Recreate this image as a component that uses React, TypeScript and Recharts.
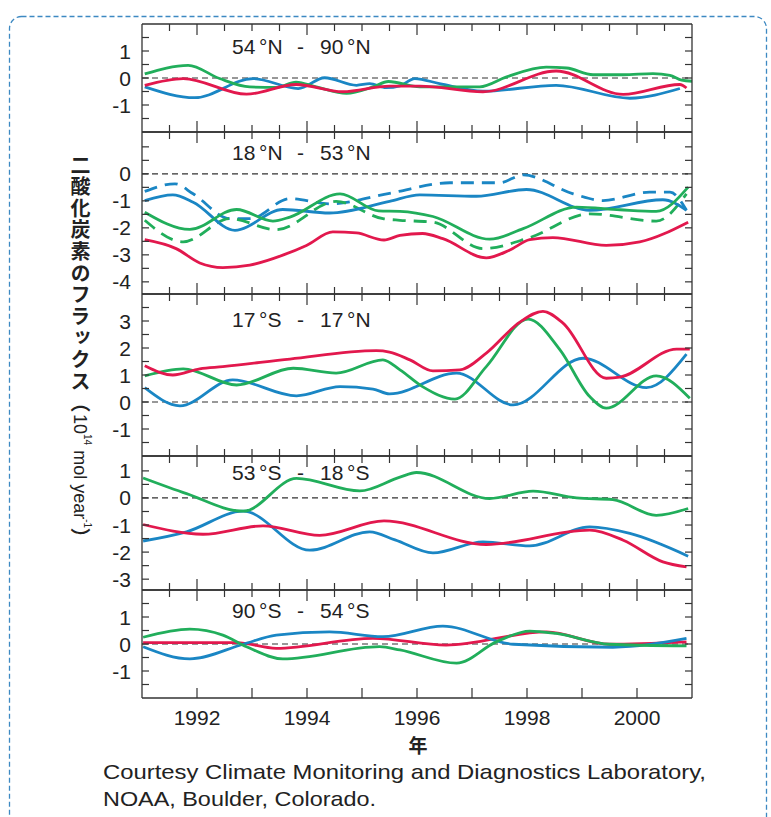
import React from "react";
import { LineChart, Line, XAxis, YAxis, ReferenceLine } from "recharts";

type Pt = [number, number];

const RED = "#e2184d";
const GREEN = "#21ae5b";
const BLUE = "#1a86c4";
const INK = "#333333";
const SANS = '"Liberation Sans", Arial, Helvetica, sans-serif';
const CJK = '"Noto Sans CJK JP", "Noto Sans CJK SC", sans-serif';

const X_DOMAIN: [number, number] = [1991, 2001];
const HALF_YEARS = [
  1991.5, 1992, 1992.5, 1993, 1993.5, 1994, 1994.5, 1995, 1995.5, 1996,
  1996.5, 1997, 1997.5, 1998, 1998.5, 1999, 1999.5, 2000, 2000.5,
];
const WHOLE_YEARS = [1992, 1993, 1994, 1995, 1996, 1997, 1998, 1999, 2000];
const YEAR_LABELS = [1992, 1994, 1996, 1998, 2000];

// 54°N - 90°N
const n54Green: Pt[] = [
  [1991.05, 0.15], [1991.84, 0.47], [1992.41, -0.02], [1992.96, -0.33],
  [1993.44, -0.35], [1993.8, -0.15], [1994.17, -0.33], [1994.72, -0.57],
  [1995.2, -0.33], [1995.48, -0.13], [1996.05, -0.33], [1997.14, -0.33],
  [1997.63, 0.04], [1998.35, 0.4], [1998.72, 0.37], [1999.2, 0.12],
  [1999.75, 0.12], [2000.29, 0.16], [2000.6, 0.1], [2000.81, -0.08], [2001, -0.12],
];
const n54Red: Pt[] = [
  [1991.05, -0.27], [1991.75, -0.02], [1992.9, -0.6], [1993.8, -0.24],
  [1994.65, -0.51], [1995.5, -0.3], [1996.05, -0.3], [1997.2, -0.51],
  [1998.53, 0.26], [1999.75, -0.61], [2000.78, -0.24], [2000.9, -0.37],
];
const n54Blue: Pt[] = [
  [1991.05, -0.33], [1991.96, -0.73], [1993.02, -0.02], [1993.84, -0.39],
  [1994.32, 0.01], [1994.9, -0.27], [1995.14, -0.21], [1995.44, -0.36],
  [1995.69, -0.29], [1995.96, -0.02], [1996.41, -0.21], [1997.2, -0.49],
  [1998.53, -0.27], [1999.87, -0.75], [2000.78, -0.39],
];

// 18°N - 53°N
const n18Red: Pt[] = [
  [1991.05, -2.44], [1991.62, -2.77], [1992.05, -3.3], [1992.47, -3.47],
  [1992.96, -3.38], [1993.56, -3.01], [1993.99, -2.65], [1994.47, -2.15],
  [1994.9, -2.19], [1995.4, -2.45], [1995.69, -2.28], [1996.1, -2.21],
  [1996.47, -2.4], [1997.26, -3.11], [1997.68, -2.83], [1998.05, -2.44],
  [1998.47, -2.36], [1999.44, -2.65], [2000.05, -2.52], [2000.93, -1.79],
];
const n18Green: Pt[] = [
  [1991.05, -1.42], [1991.87, -2.06], [1992.72, -1.32], [1993.38, -1.75],
  [1993.69, -1.6], [1994.6, -0.74], [1995.3, -1.37], [1995.69, -1.39],
  [1996.29, -1.58], [1997.32, -2.42], [1997.93, -2.03], [1998.9, -1.23],
  [1999.69, -1.33], [2000.35, -1.39], [2000.93, -0.49],
];
const n18Blue: Pt[] = [
  [1991.05, -0.99], [1991.56, -0.78], [1991.93, -1.05], [1992.69, -2.09],
  [1993.56, -1.32], [1994.41, -1.45], [1995.5, -1.02], [1996.05, -0.78],
  [1997.08, -0.83], [1997.99, -0.58], [1999.14, -1.35], [2000.47, -0.96],
  [2000.9, -1.35],
];
const n18BlueDash: Pt[] = [
  [1991.05, -0.65], [1991.6, -0.37], [1991.93, -0.74], [1992.6, -1.66],
  [1992.96, -1.66], [1993.69, -0.92], [1994.41, -1.11], [1995.5, -0.72],
  [1996.6, -0.33], [1997.5, -0.33], [1997.93, -0.04], [1998.84, -0.74],
  [1999.38, -0.99], [2000.23, -0.68], [2000.6, -0.68], [2000.9, -1.35],
];
const n18GreenDash: Pt[] = [
  [1991.05, -1.72], [1991.75, -2.52], [1992.6, -1.66], [1993.44, -2.07],
  [1994.53, -1.02], [1995.38, -1.66], [1995.69, -1.72], [1996.29, -1.79],
  [1997.2, -2.77], [1998.05, -2.36], [1999.14, -1.48], [2000.35, -1.75],
  [2000.9, -0.74],
];

// 17°S - 17°N
const eqRed: Pt[] = [
  [1991.05, 1.34], [1991.56, 1.0], [1992.05, 1.23], [1992.47, 1.31],
  [1993.69, 1.59], [1995.26, 1.9], [1995.5, 1.85], [1995.87, 1.56],
  [1996.29, 1.15], [1996.78, 1.19], [1997.26, 1.81], [1997.87, 2.96],
  [1998.29, 3.36], [1998.65, 2.93], [1999.44, 0.88], [1999.69, 0.92],
  [2000.72, 1.96], [2000.96, 1.96],
];
const eqGreen: Pt[] = [
  [1991.05, 0.97], [1991.75, 1.23], [1992.72, 0.63], [1993.75, 1.25],
  [1994.53, 1.07], [1995.38, 1.56], [1995.69, 1.19], [1996.1, 0.57],
  [1996.69, 0.11], [1997.26, 1.31], [1998.02, 3.07], [1998.6, 1.93],
  [1999.14, 0.2], [1999.44, -0.23], [2000.35, 0.97], [2000.96, 0.14],
];
const eqBlue: Pt[] = [
  [1991.05, 0.53], [1991.69, -0.14], [1992.65, 0.82], [1993.81, 0.23],
  [1994.6, 0.57], [1995.2, 0.48], [1995.5, 0.3], [1996.72, 1.07],
  [1997.75, -0.11], [1999.02, 1.62], [2000.17, 0.53], [2000.9, 1.77],
];

// 53°S - 18°S
const s18Green: Pt[] = [
  [1991.02, 0.74], [1991.81, 0.16], [1992.84, -0.49], [1993.81, 0.72],
  [1994.96, 0.26], [1995.69, 0.77], [1995.99, 0.94], [1997.32, -0.02],
  [1998.11, 0.25], [1998.9, 0], [1999.56, -0.06], [2000.35, -0.64],
  [2000.93, -0.39],
];
const s18Red: Pt[] = [
  [1991.02, -0.98], [1992.11, -1.34], [1993.2, -1.03], [1994.23, -1.38],
  [1995.4, -0.85], [1997.26, -1.72], [1999.14, -1.19], [1999.75, -1.56],
  [2000.47, -2.36], [2000.9, -2.55],
];
const s18Blue: Pt[] = [
  [1991.02, -1.59], [1991.81, -1.25], [1992.84, -0.49], [1994.05, -1.93],
  [1995.14, -1.25], [1995.6, -1.55], [1996.29, -2.03], [1997.2, -1.62],
  [1998.05, -1.77], [1999.14, -1.07], [1999.87, -1.31], [2000.93, -2.15],
];

// 90°S - 54°S
const s54Green: Pt[] = [
  [1991.02, 0.25], [1991.87, 0.55], [1992.47, 0.33], [1992.9, -0.1],
  [1993.56, -0.55], [1995.32, -0.1], [1995.69, -0.22], [1996.72, -0.71],
  [1997.44, 0.08], [1998.05, 0.48], [1998.53, 0.39], [1999.5, -0.01],
  [2000.9, -0.07],
];
const s54Red: Pt[] = [
  [1991.02, 0.05], [1992.72, 0.05], [1993.44, -0.16], [1995.2, 0.21],
  [1996.53, -0.04], [1998.35, 0.45], [1999.5, -0.01], [2000.9, 0.08],
];
const s54Blue: Pt[] = [
  [1991.02, -0.1], [1991.87, -0.55], [1992.84, -0.01], [1993.44, 0.33],
  [1994.41, 0.45], [1995.38, 0.27], [1996.47, 0.66], [1997.75, -0.01],
  [1999.56, -0.12], [2000.9, 0.21],
];

const TICKS_2 = [-1.5, -1, -0.5, 0, 0.5, 1, 1.5];
const LABELS_1 = [-1, 0, 1];
const TICKS_N18 = [-4, -3.5, -3, -2.5, -2, -1.5, -1, -0.5, 0, 0.5, 1];
const LABELS_N18 = [-4, -3, -2, -1, 0];
const TICKS_EQ = [-1.5, -1, -0.5, 0, 0.5, 1, 1.5, 2, 2.5, 3, 3.5];
const LABELS_EQ = [-1, 0, 1, 2, 3];
const TICKS_S18 = [-3, -2.5, -2, -1.5, -1, -0.5, 0, 0.5, 1];
const LABELS_S18 = [-3, -2, -1, 0, 1];

interface Series { pts: Pt[]; color: string; dashed?: boolean }
interface PanelDef {
  title: [string, string, string, string];
  titleY: number;
  top: number;
  height: number;
  domain: [number, number];
  ticks: number[];
  labels: number[];
  series: Series[];
}

const PANELS: PanelDef[] = [
  {
    title: ["54", "N", "90", "N"], titleY: 54, top: 24, height: 108,
    domain: [-2, 2], ticks: TICKS_2, labels: LABELS_1,
    series: [
      { pts: n54Blue, color: BLUE }, { pts: n54Green, color: GREEN }, { pts: n54Red, color: RED },
    ],
  },
  {
    title: ["18", "N", "53", "N"], titleY: 160, top: 132, height: 162,
    domain: [-4.45, 1.55], ticks: TICKS_N18, labels: LABELS_N18,
    series: [
      { pts: n18BlueDash, color: BLUE, dashed: true },
      { pts: n18GreenDash, color: GREEN, dashed: true },
      { pts: n18Blue, color: BLUE }, { pts: n18Green, color: GREEN }, { pts: n18Red, color: RED },
    ],
  },
  {
    title: ["17", "S", "17", "N"], titleY: 327, top: 294, height: 162,
    domain: [-2, 4], ticks: TICKS_EQ, labels: LABELS_EQ,
    series: [
      { pts: eqBlue, color: BLUE }, { pts: eqGreen, color: GREEN }, { pts: eqRed, color: RED },
    ],
  },
  {
    title: ["53", "S", "18", "S"], titleY: 480, top: 456, height: 134,
    domain: [-3.4, 1.55], ticks: TICKS_S18, labels: LABELS_S18,
    series: [
      { pts: s18Blue, color: BLUE }, { pts: s18Red, color: RED }, { pts: s18Green, color: GREEN },
    ],
  },
  {
    title: ["90", "S", "54", "S"], titleY: 618, top: 590, height: 108,
    domain: [-2, 2], ticks: TICKS_2, labels: LABELS_1,
    series: [
      { pts: s54Red, color: RED }, { pts: s54Blue, color: BLUE }, { pts: s54Green, color: GREEN },
    ],
  },
];

const PAD = 4;
const AX_H = 1;
const toRows = (pts: Pt[]) => pts.map(([x, y]) => ({ x, y }));

function Panel({ p, last }: { p: PanelDef; last: boolean }) {
  const extra = last ? 45 : 0;
  const top = PAD - AX_H;
  return (
    <div style={{ position: "absolute", left: 0, top: p.top - PAD }}>
      <LineChart
        width={771}
        height={p.height + PAD * 2 + extra}
        margin={{ top, right: 0, bottom: top + extra, left: 0 }}
      >
        <XAxis
          xAxisId="b" type="number" dataKey="x" domain={X_DOMAIN} allowDataOverflow
          ticks={last ? WHOLE_YEARS : HALF_YEARS} interval={0} height={AX_H}
          tickSize={0} tickMargin={0} tickLine={false}
          axisLine={{ stroke: INK, strokeWidth: 1.3 }}
          tick={(t: any) => (
            <g>
              <line
                x1={t.x} x2={t.x} y1={t.y}
                y2={t.y - (last ? 10 : t.payload.value % 2 === 0 ? 11 : 7)}
                stroke={INK} strokeWidth={1.2}
              />
              {last && YEAR_LABELS.includes(t.payload.value) && (
                <text x={t.x} y={t.y + 27} textAnchor="middle" fontSize={21} fontFamily={SANS} fill="#222">
                  {t.payload.value}
                </text>
              )}
            </g>
          )}
        />
        <XAxis
          xAxisId="t" orientation="top" type="number" dataKey="x" domain={X_DOMAIN} allowDataOverflow
          ticks={HALF_YEARS} interval={0} height={AX_H}
          tickSize={0} tickMargin={0} tickLine={false}
          axisLine={{ stroke: INK, strokeWidth: 1.3 }}
          tick={(t: any) => (
            <line
              x1={t.x} x2={t.x} y1={t.y}
              y2={t.y + (t.payload.value % 2 === 0 ? 11 : 7)}
              stroke={INK} strokeWidth={1.2}
            />
          )}
        />
        <YAxis
          yAxisId="l" type="number" domain={p.domain} allowDataOverflow
          ticks={p.ticks} interval={0} width={142}
          tickSize={0} tickMargin={0} tickLine={false}
          axisLine={{ stroke: INK, strokeWidth: 1.3 }}
          tick={(t: any) => (
            <g>
              <line x1={t.x} x2={t.x + 7} y1={t.y} y2={t.y} stroke={INK} strokeWidth={1.2} />
              {p.labels.includes(t.payload.value) && (
                <text x={t.x - 11} y={t.y + 7.5} textAnchor="end" fontSize={21} fontFamily={SANS} fill="#222">
                  {t.payload.value}
                </text>
              )}
            </g>
          )}
        />
        <YAxis
          yAxisId="r" orientation="right" type="number" domain={p.domain} allowDataOverflow
          ticks={p.ticks} interval={0} width={79}
          tickSize={0} tickMargin={0} tickLine={false}
          axisLine={{ stroke: INK, strokeWidth: 1.3 }}
          tick={(t: any) => (
            <line x1={t.x} x2={t.x - 7} y1={t.y} y2={t.y} stroke={INK} strokeWidth={1.2} />
          )}
        />
        <ReferenceLine xAxisId="b" yAxisId="l" y={0} stroke={INK} strokeWidth={1.2} strokeDasharray="6 4" />
        {p.series.map((s, i) => (
          <Line
            key={i}
            xAxisId="b"
            yAxisId="l"
            data={toRows(s.pts)}
            dataKey="y"
            type="monotone"
            stroke={s.color}
            strokeWidth={2.8}
            strokeDasharray={s.dashed ? "13 8" : undefined}
            dot={false}
            activeDot={false}
            isAnimationActive={false}
          />
        ))}
      </LineChart>
    </div>
  );
}

function Title({ t, y }: { t: [string, string, string, string]; y: number }) {
  return (
    <text y={y} fontSize={21} fontFamily={SANS} fill="#222">
      <tspan x={232}>{t[0]}</tspan>
      <tspan x={259}>°{t[1]}</tspan>
      <tspan x={297}>-</tspan>
      <tspan x={320}>{t[2]}</tspan>
      <tspan x={347}>°{t[3]}</tspan>
    </text>
  );
}

export default function App() {
  return (
    <div style={{ position: "absolute", left: 0, top: 0, width: 771, height: 817, background: "#fff", overflow: "hidden" }}>
      {PANELS.map((p, i) => (
        <Panel key={i} p={p} last={i === PANELS.length - 1} />
      ))}
      <div
        style={{
          position: "absolute", left: 68, top: 155, writingMode: "vertical-rl",
          fontFamily: CJK, fontWeight: 700, fontSize: 20, letterSpacing: 1.6,
          lineHeight: "24px", color: "#222", whiteSpace: "nowrap",
        }}
      >
        二酸化炭素のフラックス（
        <span style={{ fontFamily: SANS, fontWeight: 400, fontSize: 18, letterSpacing: 0 }}>
          10<sup style={{ fontSize: 10 }}>14</sup> mol year<sup style={{ fontSize: 10 }}>-1</sup>
        </span>
        ）
      </div>
      <svg width={771} height={817} style={{ position: "absolute", left: 0, top: 0, pointerEvents: "none" }}>
        <rect
          x={9.5} y={16.5} width={757} height={840} rx={12}
          fill="none" stroke="#3d89c2" strokeWidth={1.3} strokeDasharray="5 3"
        />
        {PANELS.map((p, i) => (
          <Title key={i} t={p.title} y={p.titleY} />
        ))}
        <text x={418} y={753} textAnchor="middle" fontSize={19} fontWeight={700} fontFamily={CJK} fill="#222">
          年
        </text>
        <text x={103} y={779} fontSize={21} fontFamily={SANS} fill="#222" textLength={603} lengthAdjust="spacingAndGlyphs">
          Courtesy Climate Monitoring and Diagnostics Laboratory,
        </text>
        <text x={103} y={806} fontSize={21} fontFamily={SANS} fill="#222" textLength={273} lengthAdjust="spacingAndGlyphs">
          NOAA, Boulder, Colorado.
        </text>
      </svg>
    </div>
  );
}
